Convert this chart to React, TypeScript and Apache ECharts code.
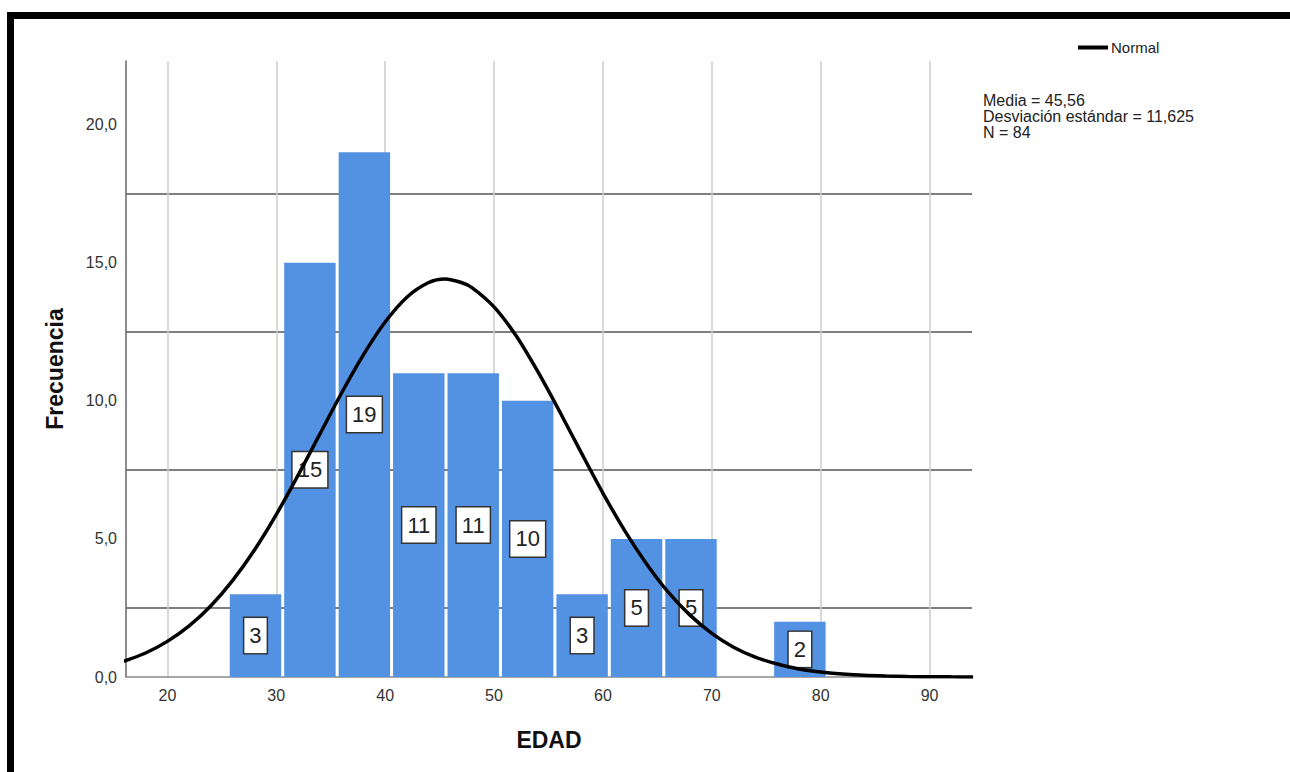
import React, { useEffect, useRef } from "react";
import * as echarts from "echarts";

// Histogram bins (left edge of each 5-year bin) and frequencies
const binStarts = [25.5, 30.5, 35.5, 40.5, 45.5, 50.5, 55.5, 60.5, 65.5, 70.5, 75.5];
const binEnds = [30.5, 35.5, 40.5, 45.5, 50.5, 55.5, 60.5, 65.5, 70.5, 75.5, 80.5];
const counts = [3, 15, 19, 11, 11, 10, 3, 5, 5, 0, 2];

// Normal curve
const normalX = [16, 18, 20, 22, 24, 26, 28, 30, 32, 34, 36, 38, 40, 42, 44, 45.5, 47, 48, 50, 52, 54, 56, 58, 60, 62, 64, 66, 68, 70, 72, 74, 76, 78, 80, 82, 84, 86, 88, 90, 92, 94];
const normalY = [0.57, 0.87, 1.29, 1.85, 2.58, 3.5, 4.6, 5.88, 7.3, 8.79, 10.28, 11.66, 12.85, 13.75, 14.28, 14.41, 14.28, 14.09, 13.4, 12.37, 11.07, 9.63, 8.13, 6.66, 5.3, 4.1, 3.07, 2.24, 1.58, 1.08, 0.72, 0.47, 0.29, 0.18, 0.11, 0.06, 0.034, 0.018, 0.01, 0.005, 0.002];

const statsLines = ["Media = 45,56", "Desviación estándar = 11,625", "N = 84"];
const legendName = "Normal";
const xTitle = "EDAD";
const yTitle = "Frecuencia";

const FONT = "Arial, 'Liberation Sans', sans-serif";

export default function App() {
  const ref = useRef<HTMLDivElement>(null);
  useEffect(() => {
    if (!ref.current) return;
    const chart = echarts.init(ref.current, null, { renderer: "svg" });
    const barData = binStarts.map((s, i) => [s, binEnds[i], counts[i]]);
    const curveData = normalX.map((x, i) => [x, normalY[i]]);
    chart.setOption({
      animation: false,
      backgroundColor: "#ffffff",
      textStyle: { fontFamily: FONT },
      grid: { left: 126, right: 318, top: 61, bottom: 95, containLabel: false },
      legend: {
        data: [legendName],
        left: 1078,
        top: 40,
        padding: 0,
        itemWidth: 30,
        itemHeight: 4,
        icon: "rect",
        itemGap: 5,
        textStyle: { fontSize: 15, color: "#222", fontFamily: FONT, padding: [0, 0, 0, -2] },
      },
      xAxis: {
        type: "value",
        min: 16.2,
        max: 93.9,
        splitNumber: 8,
        name: xTitle,
        nameLocation: "middle",
        nameGap: 51,
        nameTextStyle: { fontSize: 23, fontWeight: "bold", color: "#111", fontFamily: FONT },
        axisLine: { show: true, lineStyle: { color: "#8a8a8a", width: 1.5 } },
        axisTick: { show: false },
        axisLabel: {
          fontSize: 16,
          color: "#333",
          margin: 10,
          fontFamily: FONT,
          showMinLabel: false,
          showMaxLabel: false,
          formatter: (v: number) => (Math.abs(v % 10) < 1e-6 ? String(Math.round(v)) : ""),
        },
        splitLine: { show: true, showMinLine: false, showMaxLine: false, lineStyle: { color: "#cccccc", width: 1.5 } },
      },
      yAxis: {
        type: "value",
        min: 0,
        max: 22.3,
        interval: 5,
        name: yTitle,
        nameLocation: "middle",
        nameGap: 60,
        nameTextStyle: { fontSize: 23, fontWeight: "bold", color: "#111", fontFamily: FONT },
        axisLine: { show: true, lineStyle: { color: "#666", width: 1.5 } },
        axisTick: { show: false },
        minorTick: { show: false, splitNumber: 2 },
        minorSplitLine: { show: true, lineStyle: { color: "#555", width: 1.5 } },
        splitLine: { show: false },
        axisLabel: {
          fontSize: 16,
          color: "#333",
          margin: 9,
          fontFamily: FONT,
          formatter: (v: number) => (Math.abs(v % 5) < 1e-6 ? v.toFixed(1).replace(".", ",") : ""),
        },
      },
      series: [
        {
          type: "custom",
          name: "Frecuencia",
          z: 3,
          data: barData,
          encode: { x: [0, 1], y: 2 },
          renderItem: (params: any, api: any) => {
            const x0 = api.value(0);
            const x1 = api.value(1);
            const c = api.value(2);
            if (!c) return null;
            const p0 = api.coord([x0, c]);
            const p1 = api.coord([x1, 0]);
            return {
              type: "rect",
              shape: { x: p0[0] + 2.5, y: p0[1], width: p1[0] - p0[0] - 3, height: p1[1] - p0[1] },
              style: { fill: "#5392e3" },
              textContent: {
                style: {
                  text: String(c),
                  fontSize: 22,
                  fontFamily: FONT,
                  fill: "#222",
                  backgroundColor: "#ffffff",
                  borderColor: "#333",
                  borderWidth: 1.5,
                  padding: [6, 5, 6, 5],
                  lineHeight: 23,
                },
              },
              textConfig: { position: "inside" },
            };
          },
        },
        {
          type: "line",
          name: legendName,
          z: 5,
          data: curveData,
          smooth: 0.3,
          showSymbol: false,
          symbol: "none",
          lineStyle: { color: "#000", width: 3.5 },
          itemStyle: { color: "#000" },
        },
      ],
      graphic: [
        { type: "rect", shape: { x: 7, y: 12, width: 1283, height: 7 }, style: { fill: "#000" } },
        { type: "rect", shape: { x: 7, y: 12, width: 7, height: 760 }, style: { fill: "#000" } },
        {
          type: "text",
          left: 983,
          top: 92,
          style: { text: statsLines.join("\n"), font: `16px ${FONT}`, lineHeight: 16, fill: "#222" },
        },
      ],
    });
    return () => chart.dispose();
  }, []);
  return <div ref={ref} style={{ position: "fixed", left: 0, top: 0, width: 1290, height: 772 }} />;
}
